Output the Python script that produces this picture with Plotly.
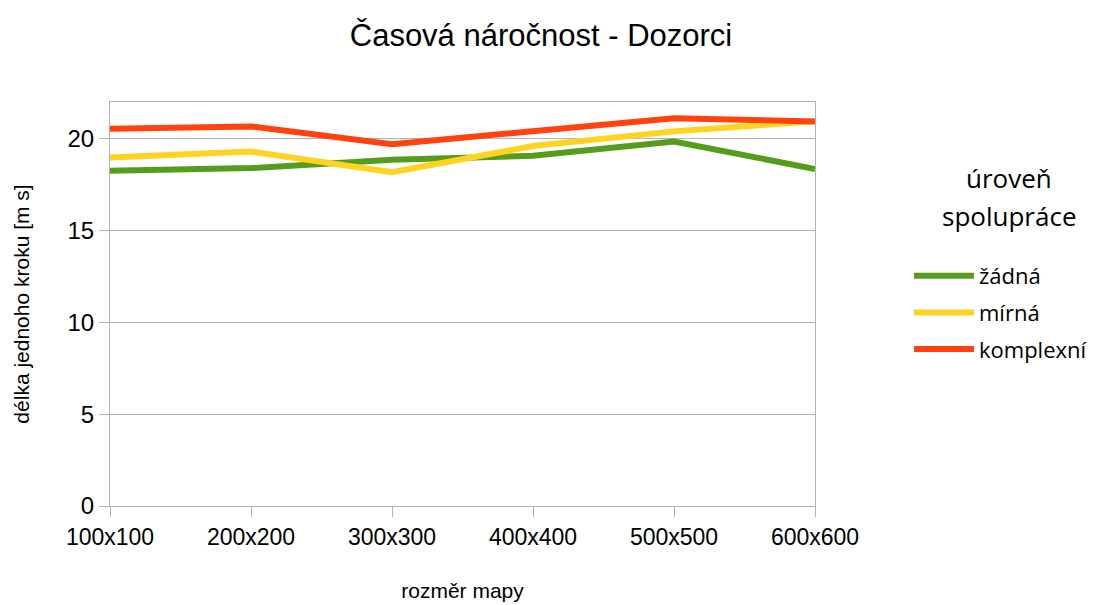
import plotly.graph_objects as go

categories = ["100x100", "200x200", "300x300", "400x400", "500x500", "600x600"]
zadna = [18.25, 18.4, 18.85, 19.07, 19.85, 18.35]
mirna = [18.98, 19.3, 18.18, 19.6, 20.4, 20.95]
komplexni = [20.55, 20.67, 19.7, 20.4, 21.12, 20.94]
series_names = ["žádná", "mírná", "komplexní"]
colors = ["#579d1c", "#ffd320", "#ff420e"]

W, H, L, R, T, B = 1095, 605, 110, 280, 102, 99
PW, PH = W - L - R, H - T - B

def px(x):
    return (x - L) / PW

def py(y):
    return (H - B - y) / PH

fig = go.Figure()
for i, (name, vals, col) in enumerate(zip(series_names, [zadna, mirna, komplexni], colors)):
    fig.add_trace(go.Scatter(x=categories, y=vals, name=name, mode="lines",
                             legendgroup=f"g{i}",
                             line=dict(color=col, width=6)))

fig.update_layout(
    width=W, height=H,
    paper_bgcolor="white", plot_bgcolor="white",
    margin=dict(l=L, r=R, t=T, b=B, autoexpand=False),
    title=dict(text="Časová náročnost - Dozorci", x=541/W, xanchor="center",
               y=1 - 35/H, yanchor="middle",
               font=dict(family="Liberation Sans", size=31, color="black")),
    legend=dict(x=px(909), y=py(255), xanchor="left", yanchor="top",
                font=dict(family="Open Sans", size=22, color="black"),
                tracegroupgap=5, itemwidth=60, bgcolor="rgba(0,0,0,0)"),
    annotations=[
        dict(text="úroveň", xref="paper", yref="paper",
             x=px(1009), y=py(178), xanchor="center", yanchor="middle",
             showarrow=False, font=dict(family="Open Sans", size=26, color="black")),
        dict(text="spolupráce", xref="paper", yref="paper",
             x=px(1009), y=py(216), xanchor="center", yanchor="middle",
             showarrow=False, font=dict(family="Open Sans", size=26, color="black")),
    ],
)
fig.update_xaxes(
    type="category", range=[0, 5], showgrid=False, automargin=False,
    showline=True, linecolor="#b3b3b3", linewidth=1, mirror=True,
    ticks="outside", ticklen=10, tickcolor="#b3b3b3",
    tickfont=dict(family="Liberation Sans", size=23, color="black"),
    title=dict(text="rozměr mapy", font=dict(family="Liberation Sans", size=21, color="black"), standoff=34),
)
fig.update_yaxes(
    range=[0, 22], dtick=5, showgrid=True, gridcolor="#b3b3b3", gridwidth=1, automargin=False,
    showline=True, linecolor="#b3b3b3", linewidth=1, mirror=True,
    ticks="outside", ticklen=10, tickcolor="#b3b3b3", zeroline=False,
    tickfont=dict(family="Liberation Sans", size=24, color="black"),
    title=dict(text="délka jednoho kroku [m s]", font=dict(family="Liberation Sans", size=21, color="black"), standoff=32),
)
fig.write_html("out.html", config={"displayModeBar": False},
               post_script="document.body.style.margin='0';")
